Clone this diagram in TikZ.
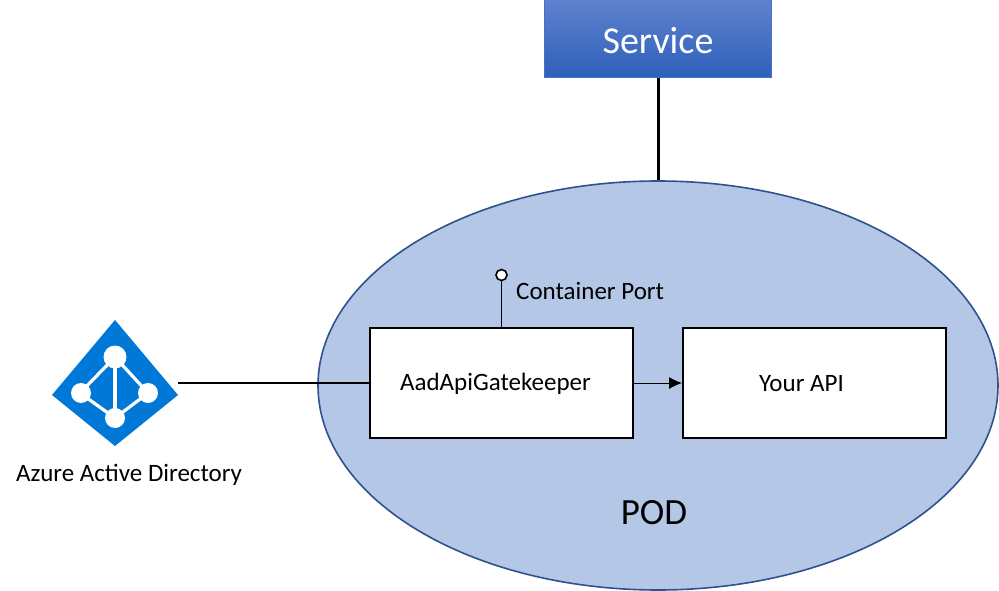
\documentclass[tikz,border=0pt]{standalone}
\usepackage{fontspec}
\setmainfont{Carlito}
\usetikzlibrary{shapes.geometric,arrows.meta}
\definecolor{PodFill}{HTML}{B4C7E7}
\definecolor{PodLine}{HTML}{2F528F}
\definecolor{AadBlue}{HTML}{0078D7}
\definecolor{ServiceTop}{HTML}{5F82CE}
\definecolor{ServiceBottom}{HTML}{2E5FBA}
\definecolor{ServiceLine}{HTML}{4472C4}
\newcommand\LabelSize[1]{\fontsize{#1}{#1}\selectfont}
\newcommand\AadIcon{%
    \fill[AadBlue] (115,320) -- (178,395) -- (115,446) -- (52,395) -- cycle;
    \draw[white,line width=3.2pt] (115,357) -- (80,393) -- (115,418) -- (148,393) -- cycle;
    \draw[white,line width=3.2pt] (115,357) -- (115,418);
    \fill[white] (115,357) circle (11.5);
    \fill[white] (81,393) circle (10);
    \fill[white] (148,393) circle (10);
    \fill[white] (115,418) circle (10);
}
\tikzset{
    boxnode/.style={draw=black,line width=2pt,fill=white,minimum width=263pt,minimum height=110pt,inner sep=0pt},
    textnode/.style={inner sep=0pt,text=black,font=\LabelSize{25}},
}
\begin{document}
\begin{tikzpicture}[x=1pt,y=-1pt]
    \useasboundingbox (0,0) rectangle (999,591);
    \node[ellipse,draw=PodLine,line width=1.6pt,fill=PodFill,inner sep=0pt,minimum width=680pt,minimum height=409pt] (pod) at (658,385.5) {};
    \node[rectangle,draw=ServiceLine,line width=1pt,top color=ServiceTop,bottom color=ServiceBottom,minimum width=227pt,minimum height=78pt,inner sep=0pt] (service) at (658,39) {};
    \node[textnode,text=white,font=\LabelSize{38}] (servicetext) at (658,40.5) {Service};
    \draw[line width=3pt] (service.south) -- (pod.north);
    \node[boxnode] (gate) at (501.5,383) {};
    \node[boxnode] (api) at (814.5,383) {};
    \node[textnode] (gatetext) at (495.5,383.5) {AadApiGatekeeper};
    \node[textnode] (apitext) at (801.5,384) {Your API};
    % port
    \node[circle,draw=black,line width=1.6pt,fill=white,inner sep=0pt,minimum size=11pt] (port) at (501.5,275) {};
    \draw[line width=1pt] (port) -- (port |- gate.north);
    \node[textnode,anchor=west] (porttext) at (516,291) {Container Port};
    \draw[line width=0.8pt,-{Latex[length=13pt,width=12pt]}] (gate.east) -- (api.west);
    % directory
    \AadIcon
    \coordinate (aad) at (178,383);
    \draw[line width=2pt] (aad) -- (gate.west);
    \node[textnode] (aadtext) at (129,474.5) {Azure Active Directory};
    \node[textnode,font=\LabelSize{37}] (podtext) at (654,513) {POD};
\end{tikzpicture}
\end{document}
